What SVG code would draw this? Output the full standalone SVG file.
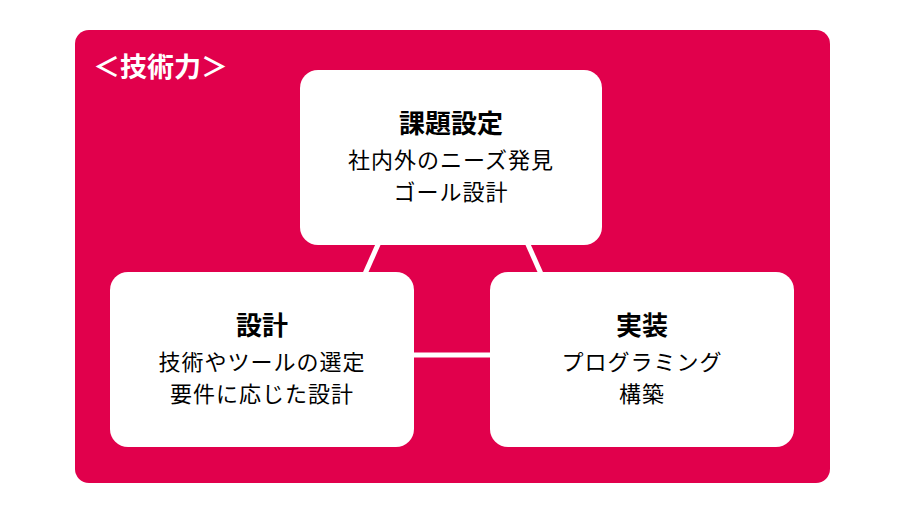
<svg xmlns="http://www.w3.org/2000/svg" width="906" height="513" viewBox="0 0 906 513">
<style>
.box{fill:#fff}
.t{font-family:"Noto Sans CJK JP","Noto Sans",sans-serif;text-anchor:middle;fill:#000}
.h{font-size:26px;font-weight:bold}
.b{font-size:22px;letter-spacing:1px}
.c{stroke:#fff;stroke-width:5;fill:none}
</style>
<rect width="906" height="513" fill="#fff"/>
<rect x="75" y="30" width="755" height="453" rx="14" fill="#E1004C"/>
<text x="93" y="77" font-family="'Noto Sans CJK JP',sans-serif" font-size="27" font-weight="bold" fill="#fff">＜技術力＞</text>
<g id="connectors">
<line class="c" x1="380" y1="240" x2="364" y2="276"/>
<line class="c" x1="526" y1="240" x2="542" y2="276"/>
<line class="c" x1="410" y1="355" x2="494" y2="355"/>
</g>
<g id="node-kadai">
<rect class="box" x="300" y="70" width="302" height="175" rx="18"/>
<text class="t h" x="451" y="133">課題設定</text>
<text class="t b" x="451" y="168">社内外のニーズ発見</text>
<text class="t b" x="451" y="200">ゴール設計</text>
</g>
<g id="node-sekkei">
<rect class="box" x="110" y="272" width="304" height="175" rx="18"/>
<text class="t h" x="262" y="335">設計</text>
<text class="t b" x="262" y="370">技術やツールの選定</text>
<text class="t b" x="262" y="402">要件に応じた設計</text>
</g>
<g id="node-jisso">
<rect class="box" x="490" y="272" width="304" height="175" rx="18"/>
<text class="t h" x="642" y="335">実装</text>
<text class="t b" x="642" y="370">プログラミング</text>
<text class="t b" x="642" y="402">構築</text>
</g>
</svg>
